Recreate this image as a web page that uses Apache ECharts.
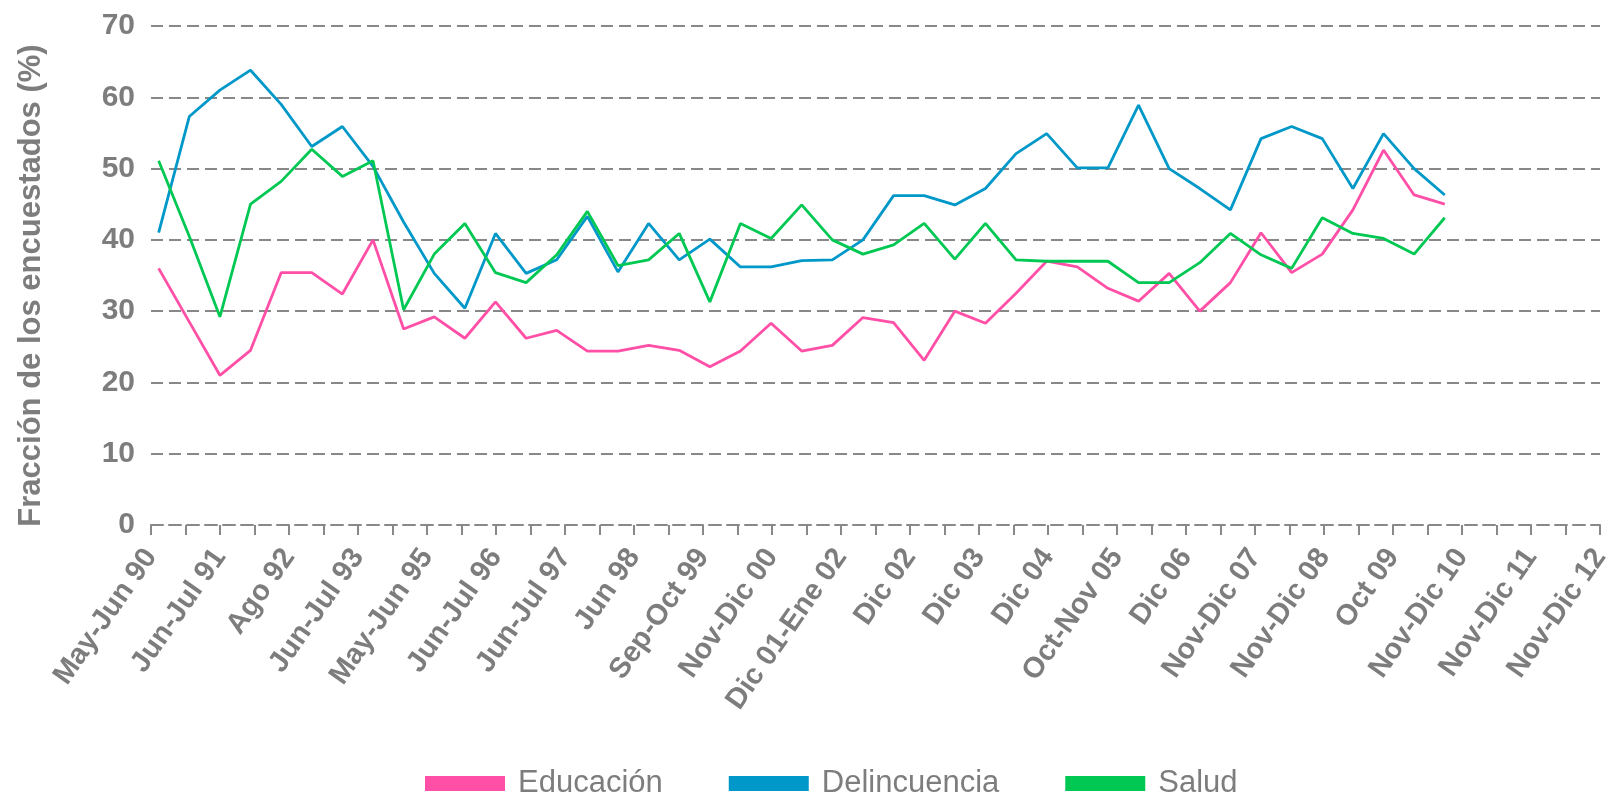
<!DOCTYPE html>
<html>
<head>
<meta charset="utf-8">
<script src="https://cdn.jsdelivr.net/npm/echarts@6/dist/echarts.min.js"></script>
<style>
html,body{margin:0;padding:0;background:#fff;}
#chart{width:1615px;height:795px;}
</style>
</head>
<body>
<div id="chart"></div>
<script>
// Tick labels (every other tick carries a label)
const categories = [
  'May-Jun 90','', 'Jun-Jul 91','', 'Ago 92','', 'Jun-Jul 93','', 'May-Jun 95','',
  'Jun-Jul 96','', 'Jun-Jul 97','', 'Jun 98','', 'Sep-Oct 99','', 'Nov-Dic 00','',
  'Dic 01-Ene 02','', 'Dic 02','', 'Dic 03','', 'Dic 04','', 'Oct-Nov 05','',
  'Dic 06','', 'Nov-Dic 07','', 'Nov-Dic 08','', 'Oct 09','', 'Nov-Dic 10','',
  'Nov-Dic 11','', 'Nov-Dic 12'
];
const yTicks = [0, 10, 20, 30, 40, 50, 60, 70];

const educacion = [36, 28.5, 21, 24.5, 35.4, 35.4, 32.4, 40, 27.5, 29.2,
  26.2, 31.3, 26.2, 27.3, 24.4, 24.4, 25.2, 24.5, 22.2, 24.4,
  28.3, 24.4, 25.2, 29.1, 28.4, 23.1, 30, 28.3, 32.5, 37,
  36.2, 33.2, 31.4, 35.3, 30, 34, 41, 35.4, 38, 44.2,
  52.6, 46.3, 45];
const delincuencia = [41, 57.3, 61, 63.8, 59, 53.1, 55.9, 50.3, 42.5, 35.3,
  30.4, 40.9, 35.3, 37.2, 43.3, 35.5, 42.3, 37.2, 40.1, 36.2,
  36.2, 37.1, 37.2, 40, 46.2, 46.2, 44.9, 47.2, 52.1, 54.9,
  50.1, 50.1, 58.9, 50, 47.2, 44.2, 54.2, 55.9, 54.2, 47.2,
  54.9, 50, 46.3];
const salud = [51.1, 40.5, 29.2, 45, 48.2, 52.7, 48.9, 51.1, 30.2, 38,
  42.3, 35.4, 34, 37.9, 44, 36.4, 37.2, 40.9, 31.3, 42.3,
  40.2, 44.9, 40, 38, 39.3, 42.3, 37.3, 42.3, 37.2, 37,
  37, 37, 34, 34, 36.8, 40.9, 37.9, 36, 43.1, 40.9,
  40.2, 38, 43.1];

const seriesNames = ['Educación', 'Delincuencia', 'Salud'];
const colors = ['#ff4fa6', '#0098c8', '#00c853'];

const FONT = '"Liberation Sans", Arial, Helvetica, sans-serif';
const GRAY = '#7d7d7d';
const gridLine = { color: '#888888', width: 2, type: [12, 6] };

const toPts = arr => arr.map((v, i) => [i, v]);

const chart = echarts.init(document.getElementById('chart'));
chart.setOption({
  animation: false,
  textStyle: { fontFamily: FONT },
  color: colors,
  grid: { left: 151, right: 15, top: 26, bottom: 270, containLabel: false },
  legend: {
    data: seriesNames,
    left: 420,
    top: 763,
    icon: 'rect',
    itemWidth: 80,
    itemHeight: 15,
    itemGap: 66,
    textStyle: { color: GRAY, fontSize: 31, fontFamily: FONT, padding: [0, 0, 0, 8] }
  },
  xAxis: [
    {
      type: 'category',
      data: categories,
      boundaryGap: false,
      axisLine: { show: true, lineStyle: gridLine },
      axisTick: { show: true, interval: 0, length: 10, lineStyle: { color: '#888888', width: 2 } },
      axisLabel: {
        interval: 0, rotate: 55, margin: 27,
        color: GRAY, fontSize: 29, fontWeight: 'bold', fontFamily: FONT
      },
      splitLine: { show: false }
    },
    {
      type: 'value',
      show: false,
      min: -0.25,
      max: 47.07
    }
  ],
  yAxis: {
    type: 'value',
    min: yTicks[0],
    max: yTicks[yTicks.length - 1],
    interval: 10,
    name: 'Fracción de los encuestados (%)',
    nameLocation: 'middle',
    nameGap: 104,
    nameRotate: 90,
    nameTextStyle: { color: GRAY, fontSize: 31, fontWeight: 'bold', fontFamily: FONT, padding: [0, 20, 0, 0] },
    axisLine: { show: false },
    axisTick: { show: false },
    axisLabel: { margin: 16, color: GRAY, fontSize: 30, fontWeight: 'bold', fontFamily: FONT },
    splitLine: { show: true, lineStyle: gridLine }
  },
  series: [
    { name: seriesNames[0], type: 'line', xAxisIndex: 1, data: toPts(educacion), symbol: 'none', clip: false, lineStyle: { width: 2.8 } },
    { name: seriesNames[1], type: 'line', xAxisIndex: 1, data: toPts(delincuencia), symbol: 'none', clip: false, lineStyle: { width: 2.8 } },
    { name: seriesNames[2], type: 'line', xAxisIndex: 1, data: toPts(salud), symbol: 'none', clip: false, lineStyle: { width: 2.8 } }
  ]
});
</script>
</body>
</html>
